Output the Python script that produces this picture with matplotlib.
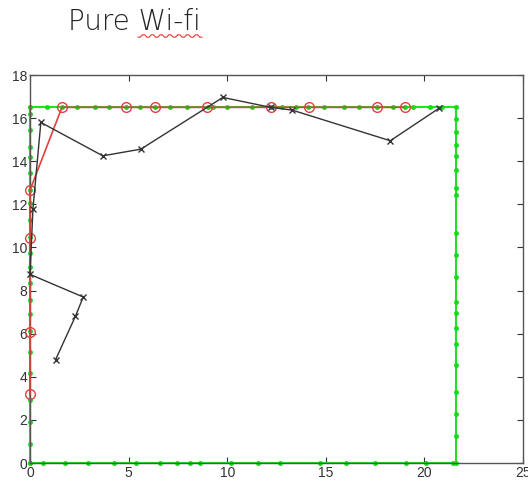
import matplotlib
matplotlib.use('Agg')
import matplotlib.pyplot as plt
import numpy as np

# green boundary path (walls): up the left side, along the top, down the right, back along bottom
green_x = [0, 0, 0, 0, 0, 0, 0, 0, 0, 0, 0,
           0, 0, 0, 0, 0, 0, 0, 0, 0, 0, 0, 0,
           0.85, 1.6, 2.4, 3.3, 4.0, 4.86, 5.6, 6.35, 7.1, 7.95, 9.05, 9.3, 10.0, 11.25, 12.2,
           12.8, 13.5, 14.1, 14.9, 15.9, 16.7, 17.6, 18.4, 19.0, 19.4, 20.3, 20.9, 21.62,
           21.62, 21.62, 21.62, 21.62, 21.62, 21.62, 21.62, 21.62, 21.62, 21.62,
           21.62, 21.62, 21.62, 21.62, 21.62, 21.62, 21.62, 21.62, 21.62,
           21.46, 20.1, 19.09, 17.48, 16.04, 14.69, 12.66, 11.56, 10.2, 8.6, 8.12,
           7.45, 6.6, 5.36, 4.28, 2.96, 1.78, 0.64, 0]
green_y = [0, 0.88, 1.92, 2.92, 4.16, 5.13, 6.12, 6.9, 7.56, 8.33, 9.08,
           9.75, 10.5, 11.27, 12.04, 12.66, 13.44, 14.2, 14.67, 15.45, 16.2, 16.5, 16.5,
           16.5, 16.5, 16.5, 16.5, 16.5, 16.5, 16.5, 16.5, 16.5, 16.5, 16.5, 16.5, 16.5, 16.5, 16.5,
           16.5, 16.5, 16.5, 16.5, 16.5, 16.5, 16.5, 16.5, 16.5, 16.5, 16.5, 16.5, 16.5,
           15.98, 15.37, 14.75, 14.25, 13.6, 12.74, 12.43, 10.65, 9.65, 8.65,
           7.45, 6.97, 6.25, 5.5, 4.55, 3.28, 2.27, 1.25, 0,
           0, 0, 0, 0, 0, 0, 0, 0, 0, 0, 0,
           0, 0, 0, 0, 0, 0, 0, 0]

# red reference points
red_x = [0, 0, 0, 0, 1.62, 4.86, 6.35, 9.0, 12.2, 14.13, 17.6, 19.0]
red_y = [3.19, 6.06, 10.46, 12.66, 16.5, 16.5, 16.5, 16.5, 16.5, 16.5, 16.5, 16.5]

# black estimated track
black_x = [1.3, 2.3, 2.7, 0, 0.15, 0.55, 3.69, 5.62, 9.78, 12.2, 13.3, 18.27, 20.73]
black_y = [4.8, 6.8, 7.7, 8.75, 11.8, 15.8, 14.25, 14.56, 16.96, 16.5, 16.37, 14.95, 16.45]

plt.rcParams['font.family'] = ['Liberation Sans', 'DejaVu Sans']

fig = plt.figure(figsize=(5.28, 4.86), dpi=100)
ax = fig.add_axes([30/528, 23/486, 493/528, 388/486])

ax.plot(green_x, green_y, '-', color='#22e022', lw=1.5, marker='.', ms=5,
        mfc='#11dd11', mec='#11dd11', zorder=2, clip_on=False)
ax.plot(red_x, red_y, '-', color='#e04040', lw=1.2, marker='o', ms=7,
        mfc='none', mec='#e04040', zorder=3, clip_on=False)
ax.plot(black_x, black_y, '-', color='#333333', lw=1.0, marker='x', ms=4, zorder=4,
        clip_on=False)

ax.set_xlim(0, 25)
ax.set_ylim(0, 18)
ax.set_xticks([0, 5, 10, 15, 20, 25])
ax.set_yticks(np.arange(0, 19, 2))
ax.tick_params(direction='in', top=True, right=True, length=4, labelsize=10,
               colors='#333333', pad=2)
for s in ax.spines.values():
    s.set_color('#555555')
    s.set_linewidth(1.0)

fig.text(68/528, 1 - 22/486, 'Pure Wi-fi', fontsize=20, ha='left', va='center',
         color='#222222', family=['DejaVu Sans'], fontweight='light')

# red spell-check squiggle under "Wi-fi"
sx = np.linspace(138, 202, 30)
sy = 36 + 1.2 * np.sign(np.sin(np.arange(30) * np.pi / 2 + 0.5))
fig.add_artist(plt.Line2D(sx / 528, 1 - sy / 486, color='#ee3333', lw=0.8))

fig.savefig('out.png', dpi=100)
